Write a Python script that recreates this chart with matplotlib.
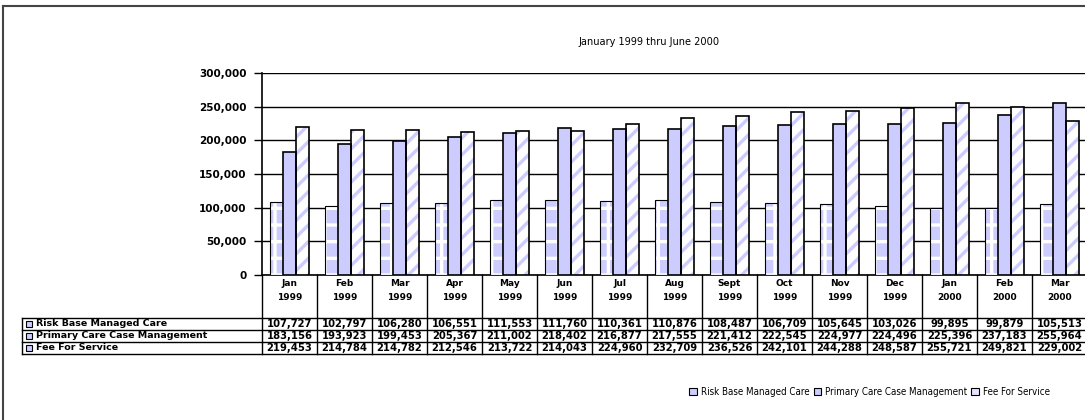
import matplotlib
matplotlib.use('Agg')
import matplotlib.pyplot as plt
import matplotlib.transforms as mtransforms
from matplotlib.patches import Rectangle
from matplotlib.lines import Line2D
import numpy as np

months = ['Jan', 'Feb', 'Mar', 'Apr', 'May', 'Jun', 'Jul', 'Aug', 'Sept',
          'Oct', 'Nov', 'Dec', 'Jan', 'Feb', 'Mar']
years = ['1999'] * 12 + ['2000'] * 3
risk = [107727, 102797, 106280, 106551, 111553, 111760, 110361, 110876,
        108487, 106709, 105645, 103026, 99895, 99879, 105513]
pccm = [183156, 193923, 199453, 205367, 211002, 218402, 216877, 217555,
        221412, 222545, 224977, 224496, 225396, 237183, 255964]
ffs = [219453, 214784, 214782, 212546, 213722, 214043, 224960, 232709,
       236526, 242101, 244288, 248587, 255721, 249821, 229002]
series_names = ['Risk Base Managed Care', 'Primary Care Case Management', 'Fee For Service']
yticks = [0, 50000, 100000, 150000, 200000, 250000, 300000]

LAV = '#CCCCFF'
W, H = 1085, 420
NARROW = dict(family='DejaVu Sans', stretch='condensed')
plt.rcParams['hatch.linewidth'] = 2.4


def fx(px):
    return px / W


def fy(py):
    return 1 - py / H


fig = plt.figure(figsize=(W / 100, H / 100), dpi=100, facecolor='white')
ax = fig.add_axes([fx(262), fy(275), fx(1087) - fx(262), fy(73) - fy(275)])

x = np.arange(len(months))
bw = 0.235

# Risk base: checkered lavender
ax.bar(x - bw, risk, bw, color=LAV, edgecolor='white', hatch='+', linewidth=0, zorder=3)
ax.bar(x - bw, risk, bw, fill=False, edgecolor='black', linewidth=0.8, zorder=4)
# PCCM: solid lavender
ax.bar(x, pccm, bw, color=LAV, edgecolor='black', linewidth=1.2, zorder=4)
# FFS: diagonal stripes
ax.bar(x + bw, ffs, bw, color='white', edgecolor=LAV, hatch='//', linewidth=0, zorder=3)
ax.bar(x + bw, ffs, bw, fill=False, edgecolor='black', linewidth=1.2, zorder=4)

ax.set_xlim(-0.5, len(months) - 0.5)
ax.set_ylim(0, 300000)
ax.set_yticks(yticks)
ax.set_yticklabels([f'{v:,}' for v in yticks], fontsize=7.5, fontweight='bold')
ax.tick_params(axis='y', direction='out', length=6, width=1, pad=5)
ax.set_xticks([])
ax.grid(axis='y', color='black', linewidth=1)
ax.set_axisbelow(True)
for s in ['top', 'right']:
    ax.spines[s].set_visible(False)
ax.spines['left'].set_linewidth(1.2)
ax.spines['bottom'].set_linewidth(1.2)

# data table under the axis
tr = mtransforms.blended_transform_factory(ax.transData, fig.transFigure)
row_lines = [318, 330, 342, 354]
for i in range(len(months) + 1):
    fig.add_artist(Line2D([i - 0.5, i - 0.5], [fy(275), fy(354)], transform=tr,
                          color='black', linewidth=1))
for i, (m, yr) in enumerate(zip(months, years)):
    fig.text(i, fy(284), m, transform=tr, ha='center', va='center', fontsize=6.5, fontweight='bold')
    fig.text(i, fy(297), yr, transform=tr, ha='center', va='center', fontsize=6.5, fontweight='bold')

for py in row_lines:
    fig.add_artist(Line2D([fx(22), fx(1087)], [fy(py), fy(py)], transform=fig.transFigure,
                          color='black', linewidth=1))
fig.add_artist(Line2D([fx(22), fx(22)], [fy(318), fy(354)], transform=fig.transFigure,
                      color='black', linewidth=1))

for r, (name, vals) in enumerate(zip(series_names, [risk, pccm, ffs])):
    yc = (row_lines[r] + row_lines[r + 1]) / 2
    fig.add_artist(Rectangle((fx(26), fy(yc + 3)), fx(6), fy(0) - fy(6),
                             transform=fig.transFigure, facecolor=LAV, edgecolor='black',
                             linewidth=0.8))
    fig.text(fx(36), fy(yc), name, ha='left', va='center', fontsize=6.8, fontweight='bold')
    for i, v in enumerate(vals):
        fig.text(i, fy(yc), f'{v:,}', transform=tr, ha='center', va='center',
                 fontsize=7.2, fontweight='bold')

# title
fig.text(fx(649), fy(42), 'January 1999 thru June 2000', ha='center', va='center',
         fontsize=7.8, **NARROW)

# legend
handles = [Rectangle((0, 0), 1, 1, facecolor=LAV, edgecolor='black', linewidth=0.8),
           Rectangle((0, 0), 1, 1, facecolor=LAV, edgecolor='black', linewidth=0.8),
           Rectangle((0, 0), 1, 1, facecolor='#E4E4FF', edgecolor='black', linewidth=0.8)]
fig.legend(handles, series_names, loc='center right', bbox_to_anchor=(fx(1050), fy(392)),
           ncol=3, frameon=False, handlelength=0.8, handleheight=0.8, handletextpad=0.4,
           columnspacing=0.4, borderaxespad=0, borderpad=0,
           prop=dict(size=7.0, **NARROW))

# outer chart border
fig.add_artist(Line2D([fx(3), fx(3)], [fy(6), 0], transform=fig.transFigure, color='#444444', linewidth=1.5))
fig.add_artist(Line2D([fx(3), 1], [fy(6), fy(6)], transform=fig.transFigure, color='#444444', linewidth=1.5))

fig.savefig('out.png', dpi=100, facecolor='white')
